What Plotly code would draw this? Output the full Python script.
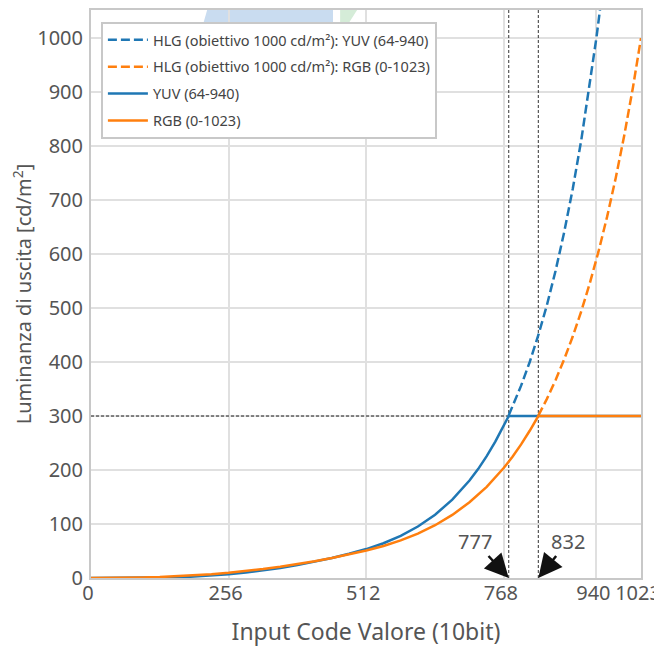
import plotly.graph_objects as go

# luminance (cd/m2) vs 10-bit input code
yuv_code = [0, 64, 96, 128, 160, 192, 224, 256, 288, 320, 352, 384, 416, 448, 480, 512,
            544, 576, 608, 640, 672, 704, 720, 736, 752, 768, 777, 1023]
yuv_lum = [0, 0, 0.1, 0.5, 1.3, 2.6, 4.5, 7.0, 10.1, 14.0, 18.5, 23.9, 30.0, 37.0, 44.8, 53.6,
           64.4, 78.0, 95.3, 117.2, 145.1, 180.6, 201.7, 225.7, 252.7, 283.1, 300, 300]

rgb_code = [0, 32, 64, 96, 128, 160, 192, 224, 256, 288, 320, 352, 384, 416, 448, 480, 512,
            544, 576, 608, 640, 672, 704, 736, 768, 784, 800, 816, 832, 1023]
rgb_lum = [0, 0.07, 0.35, 0.9, 1.8, 3.1, 4.8, 7.0, 9.6, 12.8, 16.5, 20.7, 25.5, 30.9, 36.9, 43.5, 50.8,
           59.3, 69.6, 82.3, 97.8, 116.8, 140.2, 168.8, 204.1, 224.6, 247.4, 272.7, 300, 300]

# HLG target 1000 cd/m2 (dashed, above the clip point)
hlg_yuv_code = [777, 800, 816, 832, 848, 864, 880, 896, 912, 928, 940, 952, 960]
hlg_yuv_lum = [301.6, 356.3, 400.1, 449.6, 505.5, 568.6, 640.0, 720.5, 811.6, 914.3, 1000, 1093.9, 1161.5]

hlg_rgb_code = [832, 848, 864, 880, 896, 912, 928, 944, 960, 976, 992, 1008, 1023]
hlg_rgb_lum = [300.7, 331.8, 366.4, 404.7, 447.2, 494.4, 546.7, 604.8, 669.3, 740.9, 820.4, 908.6, 1000]

clip_lum = 300
cut_yuv = 777
cut_rgb = 832
x_ticks = [0, 256, 512, 768, 940, 1023]
y_top = 1052

BLUE = "#1f77b4"
ORANGE = "#ff7f0e"
FONT = "Noto Sans"

fig = go.Figure()

# guide lines
fig.add_trace(go.Scatter(x=[0, cut_yuv], y=[clip_lum, clip_lum], mode="lines",
                         line=dict(color="#222", width=1, dash="3px,2px"),
                         showlegend=False, hoverinfo="skip"))
for xc in (cut_yuv, cut_rgb):
    fig.add_trace(go.Scatter(x=[xc, xc], y=[0, y_top], mode="lines",
                             line=dict(color="#333", width=1, dash="3px,2px"),
                             showlegend=False, hoverinfo="skip"))

fig.add_trace(go.Scatter(x=hlg_yuv_code, y=hlg_yuv_lum, mode="lines",
                         name="HLG (obiettivo 1000 cd/m²): YUV (64-940)",
                         legendgroup="a", line=dict(color=BLUE, width=2.5, dash="9px,4px")))
fig.add_trace(go.Scatter(x=hlg_rgb_code, y=hlg_rgb_lum, mode="lines",
                         name="HLG (obiettivo 1000 cd/m²): RGB (0-1023)",
                         legendgroup="b", line=dict(color=ORANGE, width=2.5, dash="9px,4px")))
fig.add_trace(go.Scatter(x=yuv_code, y=yuv_lum, mode="lines", name="YUV (64-940)",
                         legendgroup="c", line=dict(color=BLUE, width=2.5)))
fig.add_trace(go.Scatter(x=rgb_code, y=rgb_lum, mode="lines", name="RGB (0-1023)",
                         legendgroup="d", line=dict(color=ORANGE, width=2.5)))

for xc, ax in ((cut_yuv, -34), (cut_rgb, 30)):
    fig.add_annotation(x=xc, y=0, text=str(xc), showarrow=True, ax=ax, ay=-37,
                       arrowhead=2, arrowsize=1.9, arrowwidth=2.5, arrowcolor="#111",
                       font=dict(family=FONT, size=20, color="#555"))

# faint logo watermark at the top
fig.add_shape(type="path", xref="paper", yref="paper", layer="below",
              path="M 0.205,0.979 L 0.217,1.02 L 0.44,1.02 L 0.44,0.979 Z",
              fillcolor="#c9dcf0", line=dict(width=0))
fig.add_shape(type="path", xref="paper", yref="paper", layer="below",
              path="M 0.453,0.979 L 0.453,1.02 L 0.497,1.02 L 0.47,0.979 Z",
              fillcolor="#d5ecd8", line=dict(width=0))

fig.update_layout(
    width=662, height=650,
    margin=dict(l=83, r=29, t=2, b=80),
    paper_bgcolor="white", plot_bgcolor="rgba(0,0,0,0)",
    font=dict(family=FONT, color="#555"),
    legend=dict(x=0.018, y=0.979, xanchor="left", yanchor="top",
                bgcolor="white", bordercolor="#c8c8c8", borderwidth=2,
                font=dict(family=FONT, size=14.5, color="#444"),
                traceorder="grouped", tracegroupgap=5, itemwidth=40),
    xaxis=dict(range=[0, 1023], tickvals=x_ticks, tickangle=0,
               automargin=False, showgrid=True,
               gridcolor="#e0e0e0", gridwidth=2, zeroline=False, showline=True, mirror=True,
               linecolor="#c8c8c8", linewidth=2, tickfont=dict(size=20, color="#555"),
               ticklabeloverflow="allow", ticklabelstandoff=-4, ticklabelshift=-3,
               title=dict(text="Input Code Valore (10bit)", font=dict(size=23, color="#555"),
                          standoff=19)),
    yaxis=dict(range=[0, y_top], dtick=100, showgrid=True, gridcolor="#e0e0e0",
               gridwidth=2, zeroline=False, showline=True, mirror=True, automargin=False,
               linecolor="#c8c8c8", linewidth=2, tickfont=dict(size=20, color="#555"),
               ticklabelstandoff=2,
               title=dict(text="Luminanza di uscita [cd/m<sup>2</sup>]",
                          font=dict(size=20, color="#555"), standoff=6)),
)

fig.write_html("out.html")
